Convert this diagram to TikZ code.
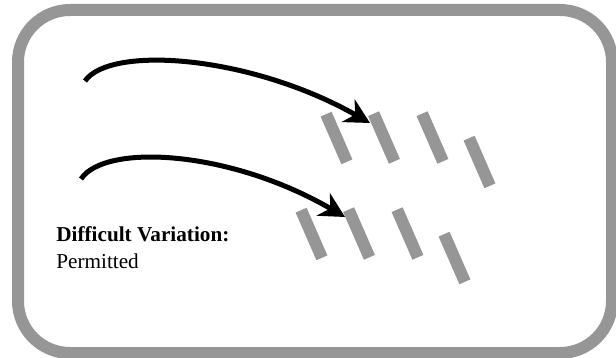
\documentclass[tikz,border=0pt]{standalone}
\usepackage{fontspec}
\setmainfont{Liberation Serif}
\usetikzlibrary{arrows.meta, positioning, math, calc}
\definecolor{barGray}{HTML}{969696}

\begin{document}
\begin{tikzpicture}[x=0.5pt, y=-0.5pt]
	\tikzmath{
		\barL   = 26;    %bar length (pt)
		\barW   = 6;     %bar width (pt)
		\barRot = -66.4; %bar tilt
		\rowDx  = -25;   %shift of the lower row
		\rowDy  = 96;    %shift of the lower row
	}
	\tikzstyle{Frame} = [draw=barGray, line width=6pt, rounded corners=26pt]
	\tikzstyle{Bar} = [
		rectangle,
		minimum width=\barL pt,
		minimum height=\barW pt,
		inner sep=0pt,
		fill=barGray,
		rotate=\barRot
	]
	\tikzstyle{Arrow} = [line width=2.5pt, -{Stealth[length=12.5pt, width=13pt, inset=4pt]}]
	\tikzstyle{EmptyNode} = [rectangle, inner sep=0pt, anchor=base west,
		font=\fontsize{10.6}{13}\selectfont]

	\useasboundingbox (0,0) rectangle (616,358);
	\draw[Frame] (18,10) rectangle (612,353);

	%%%%%%%%%%%%%%%%%%%%%%%%%%===---UPPER ROW---===%%%%%%%%%%%%%%%%%%%%%%%%%%
	\node (b11) [Bar] at (336.5,138) {};
	\node (b12) [Bar] at (384,137.5) {};
	\node (b13) [Bar] at (432.5,137.5) {};
	\node (b14) [Bar] at (479.5,162) {};
	\coordinate (upStart) at (85,81);
	\coordinate (upTip)   at (370,123);
	\draw[Arrow] (upStart) .. controls (110,45) and (250,55) .. (upTip);

	%%%%%%%%%%%%%%%%%%%%%%%%%%===---LOWER ROW---===%%%%%%%%%%%%%%%%%%%%%%%%%%
	\node (b21) [Bar] at ($(b11) + (\rowDx,\rowDy)$) {};
	\node (b22) [Bar] at ($(b12) + (\rowDx,\rowDy)$) {};
	\node (b23) [Bar] at ($(b13) + (\rowDx,\rowDy)$) {};
	\node (b24) [Bar] at ($(b14) + (\rowDx,\rowDy)$) {};
	\coordinate (lowStart) at (81,179);
	\coordinate (lowTip)   at (345,217);
	\draw[Arrow] (lowStart) .. controls (105,143) and (230,150) .. (lowTip);

	%%%%%%%%%%%%%%%%%%%%%%%%%%===---TEXT---===%%%%%%%%%%%%%%%%%%%%%%%%%%
	\node (title)     [EmptyNode] at (56,242) {\textbf{Difficult Variation:}};
	\node (permitted) [EmptyNode] at (56,268) {Permitted};
\end{tikzpicture}
\end{document}
